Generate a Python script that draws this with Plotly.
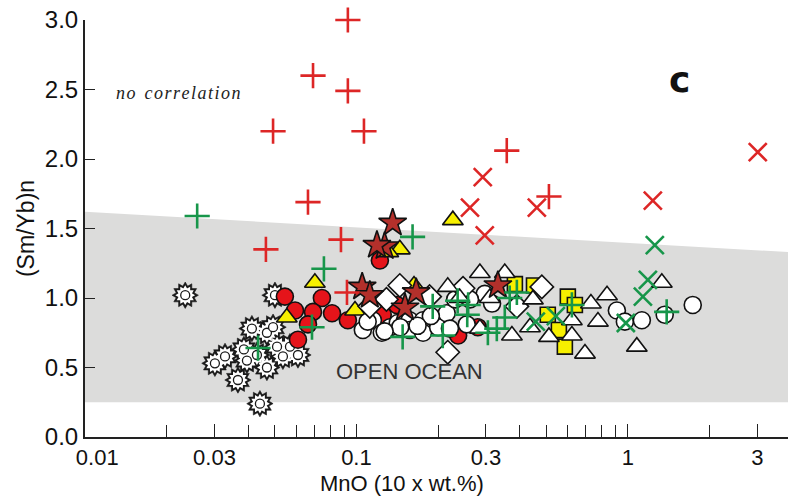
import plotly.graph_objects as go

# ---- (Sm/Yb)n versus MnO (10 x wt.%) ----

# open-ocean field (upper edge slopes down to the right)
ocean_x = [0.01, 3.9, 3.9, 0.01]
ocean_y = [1.62, 1.33, 0.25, 0.25]

# red plus
red_plus_x = [0.093, 0.0692, 0.093, 0.0493, 0.1066, 0.0663, 0.0877, 0.0464, 0.0923, 0.358, 0.512]
red_plus_y = [3.0, 2.6, 2.49, 2.2, 2.2, 1.69, 1.42, 1.35, 1.04, 2.06, 1.73]

# red cross
red_x_x = [0.292, 0.262, 0.297, 0.462, 1.236, 3.01]
red_x_y = [1.87, 1.65, 1.45, 1.65, 1.70, 2.05]

# green plus
green_plus_x = [0.0259, 0.0759, 0.0686, 0.0434, 0.161, 0.148, 0.191, 0.208, 0.258, 0.256,
                0.305, 0.329, 0.352, 0.367, 0.390, 0.622, 1.39, 0.236]
green_plus_y = [1.59, 1.21, 0.79, 0.64, 1.44, 0.72, 0.94, 0.73, 0.95, 0.88,
                0.75, 0.78, 0.86, 1.00, 1.04, 0.95, 0.90, 0.98]

# green cross
green_x_x = [1.257, 1.185, 1.136, 0.983, 0.458, 0.543]
green_x_y = [1.38, 1.13, 1.01, 0.82, 0.83, 0.87]

# dark red stars
red_star_x = [0.136, 0.127, 0.119, 0.105, 0.112, 0.151, 0.166, 0.332]
red_star_y = [1.54, 1.37, 1.38, 1.08, 1.02, 0.93, 1.04, 1.09]

# red circles
red_circle_x = [0.0545, 0.0594, 0.0746, 0.0692, 0.0813, 0.0663, 0.0609, 0.093, 0.122,
                0.141, 0.125, 0.237, 0.280]
red_circle_y = [1.01, 0.91, 1.00, 0.90, 0.89, 0.81, 0.70, 0.84, 1.27,
                0.95, 0.88, 0.73, 0.79]

# yellow triangles
yellow_tri_x = [0.0703, 0.0554, 0.0988, 0.1445, 0.2266, 0.163, 0.131]
yellow_tri_y = [1.11, 0.86, 0.91, 1.35, 1.56, 1.09, 1.33]

# yellow squares
yellow_sq_x = [0.3835, 0.451, 0.601, 0.638, 0.507, 0.557, 0.586]
yellow_sq_y = [1.10, 1.09, 1.01, 0.95, 0.88, 0.77, 0.65]

# white circles
white_circle_x = [0.1056, 0.115, 0.124, 0.133, 0.142, 0.157, 0.157, 0.176, 0.176, 0.200,
                  0.215, 0.221, 0.255, 0.297, 0.316, 0.145, 0.127, 0.231, 0.262, 0.188,
                  0.911, 0.975, 1.126, 1.367, 1.734, 0.110, 0.168]
white_circle_y = [0.77, 0.84, 0.75, 0.79, 0.82, 0.84, 0.77, 0.84, 0.75, 0.79,
                  0.89, 0.78, 0.81, 1.03, 0.96, 0.79, 0.76, 0.99, 0.99, 0.87,
                  0.91, 0.83, 0.84, 0.88, 0.95, 0.83, 0.80]

# white diamonds
diamond_x = [0.1445, 0.129, 0.112, 0.217, 0.247, 0.482, 0.390, 0.186]
diamond_y = [1.09, 0.99, 0.94, 0.61, 1.07, 1.08, 0.94, 1.01]

# white triangles
white_tri_x = [0.285, 0.352, 0.217, 0.310, 0.447, 0.374, 0.436, 0.512, 0.622, 0.622,
               0.695, 0.731, 0.776, 0.838, 1.079, 1.334, 0.285, 0.240]
white_tri_y = [1.18, 1.18, 1.08, 1.00, 0.99, 0.73, 0.79, 0.72, 0.84, 0.73,
               0.60, 0.96, 0.83, 1.02, 0.65, 1.11, 0.78, 1.00]

# open (spiked) stars
open_star_x = [0.0234, 0.0301, 0.0328, 0.0366, 0.0385, 0.0412, 0.0395, 0.0430, 0.0468,
               0.0493, 0.0468, 0.0501, 0.0510, 0.0536, 0.0569, 0.0609, 0.0441]
open_star_y = [1.02, 0.53, 0.58, 0.41, 0.63, 0.78, 0.55, 0.59, 0.75,
               0.79, 0.50, 1.02, 0.65, 0.58, 0.65, 0.59, 0.24]

x_tickvals = [0.01, 0.03, 0.1, 0.3, 1, 3]
x_ticktext = ["\u2007\u20070.01", "0.03", "0.1", "0.3", "1", "3"]
x_minor = [0.02, 0.04, 0.05, 0.06, 0.07, 0.08, 0.09,
           0.2, 0.4, 0.5, 0.6, 0.7, 0.8, 0.9, 2]
y_tickvals = [0.0, 0.5, 1.0, 1.5, 2.0, 2.5, 3.0]

RED = "#dd2626"
GREEN = "#17964a"
INK = "#1a1a1a"
FONT = "Liberation Sans"

fig = go.Figure()

fig.add_trace(go.Scatter(x=ocean_x, y=ocean_y, mode="lines", fill="toself",
                         fillcolor="#dcdcdb", line=dict(width=0), hoverinfo="skip"))


def filled(x, y, symbol, color, size, angle=0, lw=1.6, lc="#111111"):
    fig.add_trace(go.Scatter(
        x=x, y=y, mode="markers", cliponaxis=False,
        marker=dict(symbol=symbol, size=size, color=color, angle=angle,
                    line=dict(color=lc, width=lw))))


def thin(x, y, symbol, color, size, lw=2.6):
    fig.add_trace(go.Scatter(
        x=x, y=y, mode="markers", cliponaxis=False,
        marker=dict(symbol=symbol, size=size, color=color,
                    line=dict(color=color, width=lw))))


# spiked open stars: a black twelve-point burst, a white inner burst and a ringed core
for ang in (0, 30):
    filled(open_star_x, open_star_y, "hexagram", INK, 20, ang, 0.6, INK)
for ang in (0, 30):
    filled(open_star_x, open_star_y, "hexagram", "#ffffff", 15, ang, 0, "#ffffff")
filled(open_star_x, open_star_y, "circle", "#ffffff", 9, 0, 1.3, INK)

filled(red_circle_x, red_circle_y, "circle", "#e5141a", 17)
filled(yellow_tri_x, yellow_tri_y, "triangle-up", "#f7f000", 18)
filled(yellow_sq_x, yellow_sq_y, "square", "#f7f000", 15)
filled(white_circle_x, white_circle_y, "circle", "#ffffff", 17)
filled(diamond_x, diamond_y, "diamond", "#ffffff", 18)
filled(white_tri_x, white_tri_y, "triangle-up", "#ffffff", 18)
filled(red_star_x, red_star_y, "star", "#b3302b", 21)

thin(red_plus_x, red_plus_y, "cross-thin", RED, 18)
thin(red_x_x, red_x_y, "x-thin", RED, 18)
thin(green_plus_x, green_plus_y, "cross-thin", GREEN, 18)
thin(green_x_x, green_x_y, "x-thin", GREEN, 18)

spaced = "\u2002".join("\u200a".join(w) for w in "no correlation".split())
fig.add_annotation(x=-1.654, y=2.475, text="<i>" + spaced + "</i>", showarrow=False,
                   font=dict(family="Liberation Serif", size=18, color="#222"))
fig.add_annotation(x=0.1915, y=2.57, text="<b>c</b>", showarrow=False,
                   font=dict(family="DejaVu Sans", size=36, color="#111"))
fig.add_annotation(x=-0.803, y=0.47, text="OPEN OCEAN", showarrow=False,
                   font=dict(family=FONT, size=22, color="#333"))
fig.add_annotation(x=0.451, xref="paper", y=-0.112, yref="paper",
                   xanchor="center", yanchor="middle",
                   text="MnO (10 x wt.%)", showarrow=False,
                   font=dict(family=FONT, size=22, color="#111"))
fig.add_annotation(x=0.55, xref="paper", y=-0.135, yref="paper", yanchor="top",
                   text="margins", showarrow=False,
                   font=dict(family=FONT, size=22, color="#222"))

fig.update_layout(
    width=788, height=499,
    margin=dict(l=85, r=0, t=20, b=62),
    paper_bgcolor="white", plot_bgcolor="white",
    showlegend=False,
    xaxis=dict(
        type="log", range=[-2, 0.59],
        showline=True, linecolor="#222", linewidth=2,
        showgrid=False, zeroline=False,
        ticks="inside", ticklen=13, tickwidth=1.3, tickcolor="#222",
        tickmode="array", tickvals=x_tickvals, ticktext=x_ticktext,
        tickfont=dict(family=FONT, size=22, color="#111"),
        minor=dict(tickmode="array", tickvals=x_minor, ticks="inside",
                   ticklen=12, tickwidth=1.3, tickcolor="#222"),
    ),
    yaxis=dict(
        range=[0, 3],
        showline=True, linecolor="#222", linewidth=2,
        showgrid=False, zeroline=False,
        ticks="inside", ticklen=10, tickwidth=1.3, tickcolor="#222",
        tickmode="array", tickvals=y_tickvals, tickformat=".1f",
        tickfont=dict(family=FONT, size=24, color="#111"),
        title=dict(text="(Sm/Yb)n", standoff=4,
                   font=dict(family=FONT, size=23, color="#111")),
    ),
)

fig.write_html("out.html")
